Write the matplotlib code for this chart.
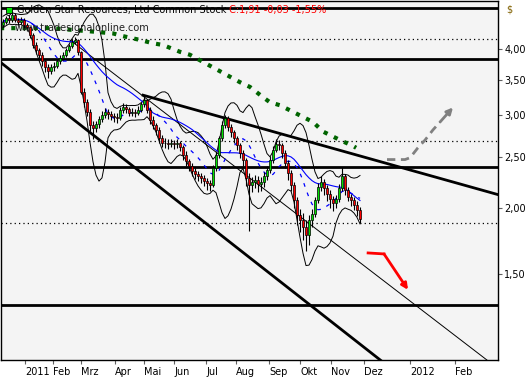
"""
Golden Star Resources candlestick chart with bands, averages and trend lines.
"""

import numpy as np
import pandas as pd
import matplotlib
matplotlib.use("Agg")
import matplotlib.pyplot as plt

# --- data (one candle = two trading days, Dec 2010 .. Nov 2011) ---
first_open = 4.45
closes = [
    4.50, 4.58, 4.54, 4.64, 4.54, 4.50, 4.54, 4.44, 4.40, 4.25,
    4.07, 3.98, 3.90, 3.79, 3.69, 3.63, 3.69, 3.72, 3.79, 3.85,
    3.90, 3.98, 4.05, 4.13, 4.16, 3.95, 3.32, 3.17, 3.04, 2.87,
    2.83, 2.88, 2.95, 3.00, 3.04, 3.01, 2.99, 2.97, 2.96, 3.07,
    3.11, 3.08, 3.03, 3.04, 3.03, 3.07, 3.14, 3.20, 3.07, 2.94,
    2.87, 2.81, 2.71, 2.66, 2.65, 2.64, 2.66, 2.64, 2.65, 2.61,
    2.52, 2.45, 2.40, 2.35, 2.32, 2.30, 2.28, 2.25, 2.23, 2.21,
    2.38, 2.52, 2.71, 2.87, 2.96, 2.85, 2.78, 2.71, 2.63, 2.54,
    2.47, 2.28, 2.21, 2.24, 2.26, 2.22, 2.24, 2.30, 2.36, 2.47,
    2.58, 2.64, 2.63, 2.54, 2.43, 2.33, 2.21, 2.07, 1.94, 1.90,
    1.84, 1.78, 1.90, 1.95, 2.07, 2.19, 2.24, 2.18, 2.13, 2.08,
    2.04, 2.08, 2.18, 2.30, 2.16, 2.10, 2.07, 2.03, 1.98, 1.91,
]
highs = [
    4.56, 4.62, 4.63, 4.70, 4.68, 4.58, 4.60, 4.58, 4.48, 4.43,
    4.28, 4.12, 4.02, 3.94, 3.82, 3.74, 3.74, 3.78, 3.83, 3.89,
    3.95, 4.02, 4.09, 4.17, 4.22, 4.18, 3.97, 3.38, 3.22, 3.08,
    2.92, 2.92, 2.99, 3.05, 3.09, 3.08, 3.05, 3.03, 3.02, 3.11,
    3.16, 3.14, 3.10, 3.09, 3.08, 3.12, 3.18, 3.27, 3.22, 3.10,
    2.98, 2.90, 2.85, 2.75, 2.71, 2.70, 2.70, 2.69, 2.70, 2.68,
    2.63, 2.56, 2.48, 2.43, 2.38, 2.35, 2.33, 2.31, 2.28, 2.26,
    2.41, 2.55, 2.74, 2.92, 3.00, 2.98, 2.88, 2.81, 2.74, 2.66,
    2.57, 2.49, 2.33, 2.29, 2.31, 2.30, 2.29, 2.34, 2.40, 2.51,
    2.62, 2.70, 2.69, 2.66, 2.57, 2.46, 2.36, 2.24, 2.10, 1.99,
    1.96, 1.90, 1.94, 1.99, 2.10, 2.23, 2.30, 2.27, 2.21, 2.16,
    2.11, 2.12, 2.22, 2.39, 2.32, 2.19, 2.13, 2.10, 2.06, 2.01,
]
lows = [
    4.40, 4.46, 4.48, 4.50, 4.50, 4.44, 4.46, 4.38, 4.32, 4.20,
    4.02, 3.92, 3.84, 3.72, 3.62, 3.52, 3.58, 3.64, 3.68, 3.75,
    3.81, 3.86, 3.94, 4.01, 4.08, 3.90, 3.28, 3.10, 2.98, 2.80,
    2.70, 2.78, 2.84, 2.91, 2.96, 2.95, 2.93, 2.91, 2.90, 2.93,
    3.03, 3.02, 2.98, 2.98, 2.97, 3.00, 3.04, 3.10, 3.02, 2.88,
    2.82, 2.75, 2.66, 2.61, 2.60, 2.59, 2.61, 2.59, 2.60, 2.56,
    2.47, 2.40, 2.35, 2.30, 2.27, 2.25, 2.23, 2.20, 2.16, 2.15,
    2.19, 2.35, 2.49, 2.68, 2.83, 2.80, 2.73, 2.66, 2.58, 2.49,
    2.40, 2.20, 1.81, 2.14, 2.18, 2.14, 2.15, 2.19, 2.26, 2.33,
    2.43, 2.55, 2.57, 2.49, 2.38, 2.26, 2.15, 2.00, 1.86, 1.80,
    1.74, 1.66, 1.70, 1.84, 1.92, 2.04, 2.15, 2.12, 2.06, 2.00,
    1.97, 2.00, 2.05, 2.15, 2.12, 2.06, 2.02, 1.98, 1.93, 1.87,
]

# long moving average (green dotted), sampled at candle positions
ma_long_pos = [-1, 16, 31, 36.7, 40, 45.7, 50, 53.3, 59, 62.3, 79, 82.3,
               86.7, 89, 92.3, 96.7, 103.3, 106.7, 112.3, 116.7, 117.7]
ma_long_val = [4.38, 4.38, 4.31, 4.28, 4.23, 4.16, 4.10, 4.07, 3.95, 3.90,
               3.46, 3.39, 3.24, 3.17, 3.13, 3.04, 2.91, 2.79, 2.69, 2.62, 2.60]

# horizontal support / resistance levels
solid_levels = [4.78, 3.83, 2.39, 1.31]
dotted_levels = [4.18, 2.68, 1.87]

# trend lines: (start pos, start price, end pos, end price)
channel_low = (-1, 3.78, 131.3, 0.974)
channel_high = (46.7, 3.27, 165, 2.12)
channel_thin = (22.3, 4.16, 161.3, 1.031)

# scenario arrows
red_path_pos = [121.7, 127.0]
red_path_val = [1.644, 1.637]
red_tip = (135.0, 1.40)
grey_path_pos = [128.0, 134.0, 135.7, 138.3, 140.7, 143.3, 145.7]
grey_path_val = [2.47, 2.47, 2.49, 2.60, 2.69, 2.81, 2.91]
grey_tip = (150.0, 3.10)

# axes
tick_pos = [7.3, 16.7, 26, 37.3, 47, 57, 67.7, 77.7, 88.7, 99, 109.3,
            120.3, 135.7, 150.7]
tick_labels = ["2011", "Feb", "Mrz", "Apr", "Mai", "Jun", "Jul", "Aug",
               "Sep", "Okt", "Nov", "Dez", "2012", "Feb"]
price_ticks = [1.50, 2.00, 2.50, 3.00, 3.50, 4.00]


def draw_candles(ax, idx, opens, highs, lows, closes):
    """Draw wicks and bodies."""
    ax.vlines(idx, lows, highs, color="black", lw=0.8, zorder=3)
    up = closes >= opens
    bottom = np.minimum(opens, closes)
    height = np.abs(closes - opens)
    colors = np.where(up, "#00e000", "#ff0000")
    ax.bar(idx, height, bottom=bottom, width=0.75, color=colors,
           edgecolor="black", linewidth=0.5, zorder=4)


def main():
    c = np.array(closes)
    o = np.array([first_open] + closes[:-1])
    h = np.array(highs)
    l = np.array(lows)
    idx = np.arange(len(c))

    s = pd.Series(c)
    mid = s.rolling(10, min_periods=1).mean()
    sd = s.rolling(10, min_periods=2).std().bfill()
    upper = mid + 2 * sd
    lower = mid - 2 * sd
    ma_mid = s.rolling(25, min_periods=1).mean()

    fig = plt.figure(figsize=(5.31, 3.80), dpi=100)
    ax = fig.add_axes([1 / 531, 20 / 380, 497 / 531, 359 / 380])
    ax.set_facecolor("#f4f4f4")
    ax.set_yscale("log")
    ax.set_xlim(-0.67, 165)
    ax.set_ylim(1.031, 4.93)

    for lv in solid_levels:
        ax.axhline(lv, color="black", lw=2, zorder=2)
    for lv in dotted_levels:
        ax.axhline(lv, color="black", lw=0.9, ls=(0, (1, 2.5)), zorder=2)

    for x0, y0, x1, y1 in (channel_low, channel_high):
        ax.plot([x0, x1], [y0, y1], color="black", lw=2, zorder=2)
    x0, y0, x1, y1 = channel_thin
    ax.plot([x0, x1], [y0, y1], color="black", lw=0.7, zorder=2)

    ax.plot(ma_long_pos, ma_long_val, color="#006400", lw=3.0,
            ls=(0, (1.0, 1.7)), zorder=2)

    ax.plot(idx, upper, color="black", lw=0.7, zorder=2)
    ax.plot(idx, lower, color="black", lw=0.7, zorder=2)
    ax.plot(idx, mid, color="#0000ff", lw=0.9, ls=(0, (3, 5)), zorder=2)
    ax.plot(idx, ma_mid, color="#0000ff", lw=0.8, zorder=2)

    draw_candles(ax, idx, o, h, l, c)

    # scenario arrows
    ax.plot(red_path_pos, red_path_val, color="#ff0000", lw=2, zorder=5)
    ax.annotate("", xy=red_tip, xytext=(red_path_pos[-1], red_path_val[-1]),
                arrowprops=dict(arrowstyle="-|>", color="#ff0000", lw=2,
                                mutation_scale=9, shrinkA=0, shrinkB=0),
                zorder=5)
    ax.plot(grey_path_pos, grey_path_val, color="#808080", lw=2,
            ls=(0, (3, 2)), zorder=5)
    ax.annotate("", xy=grey_tip, xytext=(grey_path_pos[-1], grey_path_val[-1]),
                arrowprops=dict(arrowstyle="-|>", color="#808080", lw=2,
                                mutation_scale=9, shrinkA=0, shrinkB=0),
                zorder=5)

    # axes styling
    ax.yaxis.tick_right()
    ax.minorticks_off()
    ax.set_yticks(price_ticks)
    ax.set_yticklabels([f"{v:.2f}".replace(".", ",") for v in price_ticks],
                       fontsize=7)
    ax.set_xticks(tick_pos)
    ax.set_xticklabels(tick_labels, fontsize=7, ha="left")
    ax.tick_params(axis="y", direction="out", length=3, pad=1.5,
                   color="#606060")
    ax.tick_params(axis="x", direction="out", length=3, pad=2,
                   color="#606060")
    for sp in ax.spines.values():
        sp.set_color("black")
        sp.set_linewidth(1)

    fig.text(506 / 531, 1 - 10 / 380, "$", fontsize=7, ha="left",
             va="center", color="#806000")

    # title block
    ax.plot([0.017], [0.975], marker="s", ms=5, mfc="#00e000", mec="black",
            mew=0.6, transform=ax.transAxes, clip_on=False, zorder=6)
    t = ax.text(0.032, 0.975, "Golden Star Resources, Ltd Common Stock",
                transform=ax.transAxes, fontsize=7, va="center", ha="left",
                zorder=6)
    ax.annotate(" C:1,91 -0,03 -1,55%", xy=(1, 0.5), xycoords=t,
                fontsize=7, va="center", ha="left", color="#ff0000", zorder=6)
    ax.text(0.028, 0.925, "www.tradesignalonline.com", transform=ax.transAxes,
            fontsize=7, va="center", ha="left", color="#202020", zorder=6)

    fig.savefig("out.png", dpi=100, facecolor="white")


if __name__ == "__main__":
    main()
